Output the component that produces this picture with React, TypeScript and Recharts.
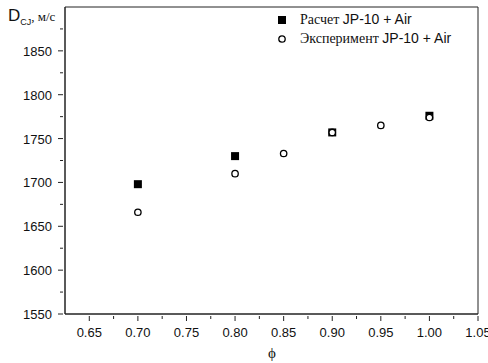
import React from 'react';
import { ScatterChart, Scatter, XAxis, YAxis, ReferenceArea } from 'recharts';

const calcPhi = [0.7, 0.8, 0.9, 1.0];
const calcD = [1698, 1730, 1757, 1776];

const expPhi = [0.7, 0.8, 0.85, 0.9, 0.95, 1.0];
const expD = [1666, 1710, 1733, 1757, 1765, 1774];

const xTicks = [0.65, 0.675, 0.7, 0.725, 0.75, 0.775, 0.8, 0.825, 0.85, 0.875, 0.9, 0.925, 0.95, 0.975, 1.0, 1.025, 1.05];
const yTicks = [1550, 1575, 1600, 1625, 1650, 1675, 1700, 1725, 1750, 1775, 1800, 1825, 1850, 1875];

const calcData = calcPhi.map((x, i) => ({ x, y: calcD[i] }));
const expData = expPhi.map((x, i) => ({ x, y: expD[i] }));

const AXIS = '#222';
const SANS = 'Arial, "Liberation Sans", sans-serif';
const SERIF = '"Times New Roman", "Liberation Serif", serif';

const isMajorX = (v: number) => Math.round(v * 1000) % 50 === 0;

const XTick = (props: any) => {
  const { x, y, payload } = props;
  const v = payload.value;
  const major = isMajorX(v);
  return (
    <g>
      <line x1={x} y1={y} x2={x} y2={y + (major ? 5 : 3)} stroke={AXIS} />
      {major && (
        <text x={x} y={y + 21} textAnchor="middle" fontSize={13} fontFamily={SANS} fill="#111">
          {v.toFixed(2)}
        </text>
      )}
    </g>
  );
};

const YTick = (props: any) => {
  const { x, y, payload } = props;
  const v = payload.value;
  const major = v % 50 === 0;
  return (
    <g>
      <line x1={x} y1={y} x2={x - (major ? 5 : 3)} y2={y} stroke={AXIS} />
      {major && (
        <text x={x - 11} y={y + 5} textAnchor="end" fontSize={13} fontFamily={SANS} fill="#111">
          {v}
        </text>
      )}
    </g>
  );
};

const SquareShape = (props: any) => {
  const { cx, cy } = props;
  return <rect x={cx - 4} y={cy - 4} width={8} height={8} fill="#000" />;
};

const CircleShape = (props: any) => {
  const { cx, cy } = props;
  return <circle cx={cx} cy={cy} r={3.2} fill="#fff" stroke="#000" strokeWidth={1.3} />;
};

export default function App() {
  return (
    <div style={{ position: 'absolute', left: 0, top: 0, width: 488, height: 363, background: '#fff' }}>
      <ScatterChart width={488} height={363} margin={{ top: 7, right: 10, left: 5, bottom: 9 }}>
        <XAxis
          type="number"
          dataKey="x"
          domain={[0.625, 1.05]}
          ticks={xTicks}
          interval={0}
          tick={<XTick />}
          tickLine={false}
          tickSize={0}
          axisLine={{ stroke: AXIS }}
          height={40}
          allowDataOverflow
        />
        <YAxis
          type="number"
          dataKey="y"
          domain={[1550, 1900]}
          ticks={yTicks}
          interval={0}
          tick={<YTick />}
          tickLine={false}
          tickSize={0}
          axisLine={{ stroke: AXIS }}
          width={60}
          allowDataOverflow
        />
        <ReferenceArea x1={0.625} x2={1.05} y1={1550} y2={1900} fill="none" stroke={AXIS} strokeWidth={1} />
        <Scatter data={calcData} shape={<SquareShape />} isAnimationActive={false} />
        <Scatter data={expData} shape={<CircleShape />} isAnimationActive={false} />
      </ScatterChart>
      <div style={{ position: 'absolute', left: 276, top: 10, fontSize: 14, lineHeight: '19px', color: '#111', whiteSpace: 'nowrap' }}>
        <div style={{ display: 'flex', alignItems: 'center' }}>
          <svg width={24} height={19}><rect x={2} y={6} width={8} height={8} fill="#000" /></svg>
          <span style={{ fontFamily: SERIF }}>Расчет&nbsp;</span>
          <span style={{ fontFamily: SANS }}>JP-10 + Air</span>
        </div>
        <div style={{ display: 'flex', alignItems: 'center' }}>
          <svg width={24} height={19}><circle cx={6} cy={10} r={3.2} fill="#fff" stroke="#000" strokeWidth={1.3} /></svg>
          <span style={{ fontFamily: SERIF }}>Эксперимент&nbsp;</span>
          <span style={{ fontFamily: SANS }}>JP-10 + Air</span>
        </div>
      </div>
      <div style={{ position: 'absolute', left: 8, top: 6, whiteSpace: 'nowrap', color: '#111' }}>
        <span style={{ fontFamily: SANS, fontSize: 17 }}>D</span>
        <span style={{ fontFamily: SANS, fontSize: 9, position: 'relative', top: 4 }}>CJ</span>
        <span style={{ fontFamily: SERIF, fontSize: 13 }}>, м/с</span>
      </div>
      <div style={{ position: 'absolute', left: 268, top: 345, fontFamily: SERIF, fontSize: 15, color: '#111' }}>
        ϕ
      </div>
    </div>
  );
}
